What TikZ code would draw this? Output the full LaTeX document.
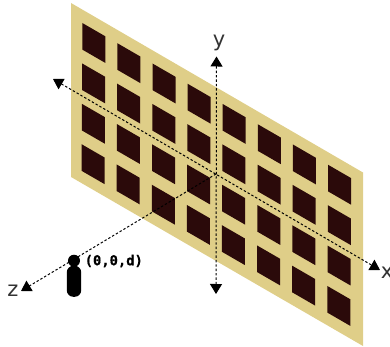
\documentclass[tikz,border=0pt]{standalone}
\usepackage{fontspec}
\setmainfont{DejaVu Sans}
\newfontfamily\labelmono[FakeBold=0.6]{DejaVu Sans Mono Bold}
\usetikzlibrary{arrows.meta}
\definecolor{panelcol}{HTML}{DFCE88}
\definecolor{cellcol}{HTML}{2B0A0A}
\definecolor{labelcol}{HTML}{333333}
\tikzset{
  axisline/.style={line width=1pt,dash pattern=on 2.4pt off 2pt,black},
  axistips/.style={{Triangle[length=10pt,width=12pt]}-{Triangle[length=10pt,width=12pt]}},
  axislabel/.style={inner sep=0pt,text=labelcol,font=\fontsize{21}{21}\selectfont},
}
\begin{document}
\begin{tikzpicture}[x=1pt,y=-1pt]
\useasboundingbox (0,0) rectangle (390,347);
\fill[panelcol] (71,3) -- (363,172.5) -- (363,346) -- (71,177) -- cycle;
\foreach \c in {0,...,7}{
  \foreach \r in {0,...,3}{
    \pgfmathsetmacro{\px}{82.3+35.1*\c-0.25*\r}
    \pgfmathsetmacro{\py}{23+20.25*\c+40.4*\r}
    \fill[cellcol] (\px,\py) -- ++(23,13.3) -- ++(0,26.6) -- ++(-23,-13.3) -- cycle;
  }
}
\coordinate (origin) at (216,174);
\coordinate (xneg) at (53,79);
\coordinate (xpos) at (380,270);
\coordinate (ypos) at (216.5,56.5);
\coordinate (yneg) at (216,294);
\coordinate (zpos) at (21,291);
\draw[axisline,axistips] (xneg) -- (xpos);
\draw[axisline,axistips] (yneg) -- (ypos);
\draw[axisline,-{Triangle[length=10pt,width=12pt]}] (origin) -- (zpos);
\node[axislabel] (ylabel) at (219,43) {y};
\node[axislabel] (xlabel) at (387,273) {x};
\node[axislabel] (zlabel) at (13,291) {z};
\fill[black] (74,260.7) circle (6);
\fill[black,rounded corners=6.5pt] (66.8,265.8) rectangle (81.2,296.8);
\node[inner sep=0pt,anchor=west,font=\labelmono\fontsize{13.8}{13.8}\selectfont] (viewer) at (84.5,261) {(0,0,d)};
\end{tikzpicture}
\end{document}
